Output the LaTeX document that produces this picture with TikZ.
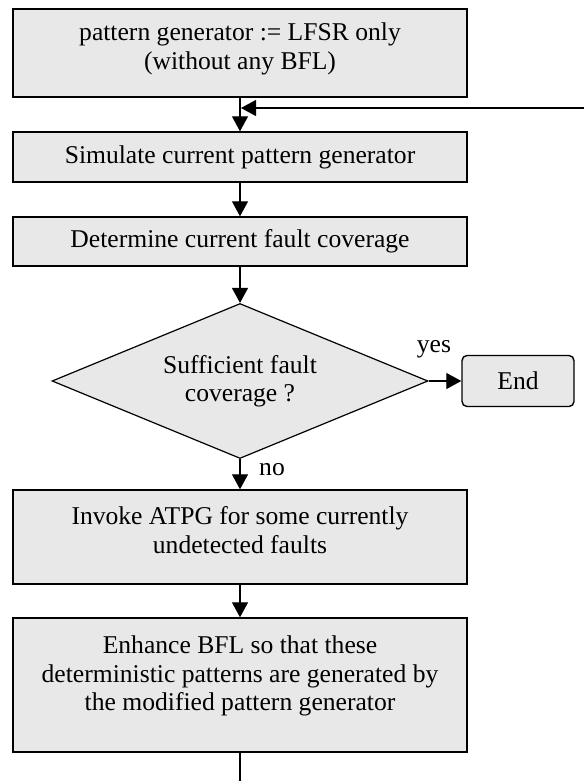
\documentclass[tikz,border=0pt]{standalone}
\usepackage{fontspec}
\setmainfont{Liberation Serif}
\usetikzlibrary{arrows.meta,shapes.geometric}
\definecolor{boxfill}{RGB}{232,232,232}
\begin{document}
\begin{tikzpicture}[x=1pt,y=-1pt,
  font=\fontsize{25.6}{28.5}\selectfont,
  box/.style={draw=black, line width=1.4pt, fill=boxfill, minimum width=454pt, inner sep=0pt, align=center},
  txt/.style={align=center, inner sep=0pt},
  decision/.style={diamond, aspect=2.43, draw=black, line width=1.2pt, fill=boxfill, minimum width=376pt, minimum height=155pt, inner sep=0pt, align=center},
  term/.style={draw=black, line width=1.4pt, fill=boxfill, rounded corners=5pt, minimum width=112pt, minimum height=51pt, inner sep=0pt},
  flow/.style={line width=1.2pt, -{Triangle[length=15pt,width=16pt]}},
  plain/.style={line width=1.2pt}]
\useasboundingbox (0,0) rectangle (584,781);

% process boxes
\node[box, minimum height=88pt] (init) at (240,53) {};
\node[txt] (initText) at (240,49) {pattern generator := LFSR only\\(without any BFL)};
\node[box, minimum height=50pt] (sim) at (240,157) {Simulate current pattern generator};
\node[box, minimum height=49pt] (cov) at (240,241.5) {Determine current fault coverage};
\node[decision] (check) at (240,381) {Sufficient fault\\coverage ?};
\node[term] (stop) at (518,381) {End};
\node[box, minimum height=94pt] (atpg) at (240,537) {};
\node[txt] (atpgText) at (240,530) {Invoke ATPG for some currently\\undetected faults};
\node[box, minimum height=134pt] (bfl) at (240,685) {};
\node[txt] (bflText) at (240,676) {Enhance BFL so that these\\deterministic patterns are generated by\\the modified pattern generator};

% loop-back connector
\coordinate (loopIn) at (584,108);
\coordinate (loopOut) at (241,108);
\coordinate (loopDown) at (240,781);

% connectors
\draw[flow] (init) -- (sim);
\draw[flow] (loopIn) -- (loopOut);
\draw[flow] (sim) -- (cov);
\draw[flow] (cov) -- (check);
\draw[flow] (check.east) -- (stop.west);
\draw[flow] (check.south) -- (atpg);
\draw[flow] (atpg) -- (bfl);
\draw[plain] (bfl.south) -- (loopDown);

% branch labels
\node[txt] (yesLabel) at (434,349) {yes};
\node[txt] (noLabel) at (272,470) {no};
\end{tikzpicture}
\end{document}
